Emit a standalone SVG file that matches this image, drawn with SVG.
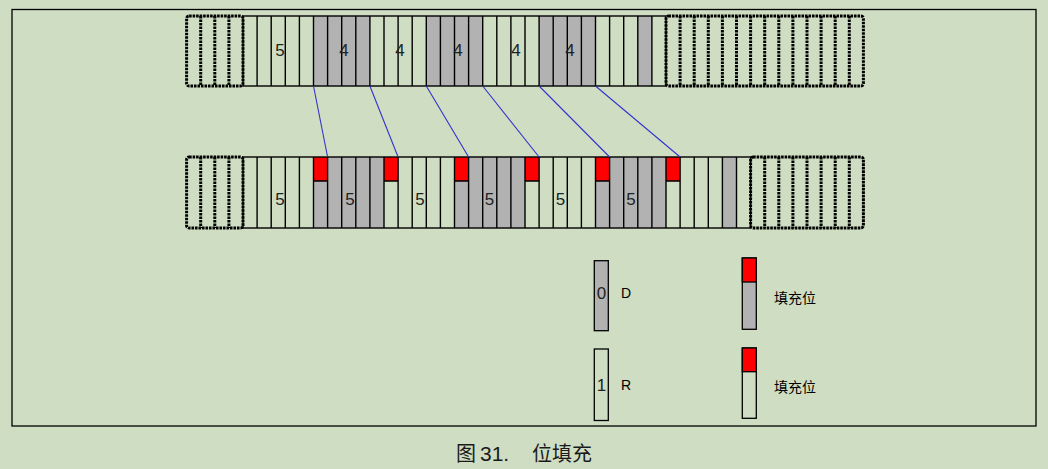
<svg xmlns="http://www.w3.org/2000/svg" width="1048" height="469" viewBox="0 0 1048 469">
<style>
.bg{fill:#CFDEC3}
.gray{fill:#B2B2B2}
.light{fill:#CFDEC3}
.red{fill:#FF0000}
.cell{fill:none;stroke:#000;stroke-width:1.4}
.dot{fill:none;stroke:#000;stroke-width:3;stroke-dasharray:2.6 0.9}
.conn{stroke:#3333CC;stroke-width:1.1;fill:none}
.num{font-family:"Liberation Sans",Arial,sans-serif;font-size:17px;fill:#222;text-anchor:middle}
.lbl{font-family:"Liberation Sans",Arial,sans-serif;font-size:14px;fill:#000}
.cjk{font-family:"Noto Sans CJK SC",sans-serif;font-size:14px;fill:#000}
.cap{font-family:"Noto Sans CJK SC",sans-serif;font-size:20px;fill:#1a1a1a}
</style>
<rect class="bg" x="0" y="0" width="1048" height="469"/>
<rect x="12" y="9.5" width="1024" height="416.5" fill="none" stroke="#000" stroke-width="1.3"/>

<g id="top-row">
  <rect class="gray" x="313.5" y="16" width="56.4" height="70"/>
  <rect class="gray" x="426.3" y="16" width="56.4" height="70"/>
  <rect class="gray" x="539.1" y="16" width="56.4" height="70"/>
  <rect class="gray" x="637.8" y="16" width="14.1" height="70"/>
  <rect class="cell" x="243" y="16" width="423" height="70"/>
  <path class="cell" d="M257.1 16V86M271.2 16V86M285.3 16V86M299.4 16V86M313.5 16V86M327.6 16V86M341.7 16V86M355.8 16V86M369.9 16V86M384 16V86M398.1 16V86M412.2 16V86M426.3 16V86M440.4 16V86M454.5 16V86M468.6 16V86M482.7 16V86M496.8 16V86M510.9 16V86M525 16V86M539.1 16V86M553.2 16V86M567.3 16V86M581.4 16V86M595.5 16V86M609.6 16V86M623.7 16V86M637.8 16V86M651.9 16V86"/>
  <rect class="dot" x="186.6" y="16" width="56.4" height="70" rx="2.5"/>
  <path class="dot" d="M200.7 16V86M214.8 16V86M228.9 16V86"/>
  <rect class="dot" x="666" y="16" width="197.4" height="70" rx="2.5"/>
  <path class="dot" d="M680.1 16V86M694.2 16V86M708.3 16V86M722.4 16V86M736.5 16V86M750.6 16V86M764.7 16V86M778.8 16V86M792.9 16V86M807 16V86M821.1 16V86M835.2 16V86M849.3 16V86"/>
  <text class="num" x="280" y="56">5</text>
  <text class="num" x="344" y="56">4</text>
  <text class="num" x="400" y="56">4</text>
  <text class="num" x="458" y="56">4</text>
  <text class="num" x="516" y="56">4</text>
  <text class="num" x="570" y="56">4</text>
</g>

<g id="bottom-row">
  <rect class="gray" x="313.5" y="157" width="70.5" height="71"/>
  <rect class="gray" x="454.5" y="157" width="70.5" height="71"/>
  <rect class="gray" x="595.5" y="157" width="70.5" height="71"/>
  <rect class="gray" x="722.4" y="157" width="14.1" height="71"/>
  <rect class="red" x="313.5" y="157" width="14.1" height="24"/>
  <rect class="red" x="384" y="157" width="14.1" height="24"/>
  <rect class="red" x="454.5" y="157" width="14.1" height="24"/>
  <rect class="red" x="525" y="157" width="14.1" height="24"/>
  <rect class="red" x="595.5" y="157" width="14.1" height="24"/>
  <rect class="red" x="666" y="157" width="14.1" height="24"/>
  <path class="cell" d="M313.5 181H327.6M384 181H398.1M454.5 181H468.6M525 181H539.1M595.5 181H609.6M666 181H680.1"/>
  <rect class="cell" x="243" y="157" width="507.6" height="71"/>
  <path class="cell" d="M257.1 157V228M271.2 157V228M285.3 157V228M299.4 157V228M313.5 157V228M327.6 157V228M341.7 157V228M355.8 157V228M369.9 157V228M384 157V228M398.1 157V228M412.2 157V228M426.3 157V228M440.4 157V228M454.5 157V228M468.6 157V228M482.7 157V228M496.8 157V228M510.9 157V228M525 157V228M539.1 157V228M553.2 157V228M567.3 157V228M581.4 157V228M595.5 157V228M609.6 157V228M623.7 157V228M637.8 157V228M651.9 157V228M666 157V228M680.1 157V228M694.2 157V228M708.3 157V228M722.4 157V228M736.5 157V228"/>
  <rect class="dot" x="186.6" y="157" width="56.4" height="71" rx="2.5"/>
  <path class="dot" d="M200.7 157V228M214.8 157V228M228.9 157V228"/>
  <rect class="dot" x="750.6" y="157" width="112.8" height="71" rx="2.5"/>
  <path class="dot" d="M764.7 157V228M778.8 157V228M792.9 157V228M807 157V228M821.1 157V228M835.2 157V228M849.3 157V228"/>
  <text class="num" x="280" y="204.5">5</text>
  <text class="num" x="350" y="204.5">5</text>
  <text class="num" x="420" y="204.5">5</text>
  <text class="num" x="489.5" y="204.5">5</text>
  <text class="num" x="560.5" y="204.5">5</text>
  <text class="num" x="631" y="204.5">5</text>
</g>

<g id="connectors">
  <line class="conn" x1="313.5" y1="86" x2="327.6" y2="157"/>
  <line class="conn" x1="369.9" y1="86" x2="398.1" y2="157"/>
  <line class="conn" x1="426.3" y1="86" x2="468.6" y2="157"/>
  <line class="conn" x1="482.7" y1="86" x2="539.1" y2="157"/>
  <line class="conn" x1="539.1" y1="86" x2="609.6" y2="157"/>
  <line class="conn" x1="595.5" y1="86" x2="680.1" y2="157"/>
</g>

<g id="legend-d">
  <rect class="gray" x="594.3" y="260.7" width="14" height="70" stroke="#000" stroke-width="1.3"/>
  <text class="num" x="601.5" y="299">0</text>
  <text class="lbl" x="621" y="298">D</text>
</g>
<g id="legend-r">
  <rect class="light" x="594.3" y="349" width="14" height="71.5" stroke="#000" stroke-width="1.3"/>
  <text class="num" x="601.5" y="391">1</text>
  <text class="lbl" x="621" y="390">R</text>
</g>
<g id="legend-stuff-d">
  <rect class="gray" x="742.3" y="258" width="14" height="71.3" stroke="#000" stroke-width="1.3"/>
  <rect class="red" x="742.3" y="258" width="14" height="24" stroke="#000" stroke-width="1.3"/>
  <text class="cjk" x="774" y="303">填充位</text>
</g>
<g id="legend-stuff-r">
  <rect class="light" x="742.3" y="348" width="14" height="70.3" stroke="#000" stroke-width="1.3"/>
  <rect class="red" x="742.3" y="348" width="14" height="23.7" stroke="#000" stroke-width="1.3"/>
  <text class="cjk" x="774" y="392">填充位</text>
</g>

<g id="caption">
  <text class="cap" x="456" y="461">图</text>
  <text x="480" y="461" font-family="Liberation Sans,Arial,sans-serif" font-size="21" fill="#1a1a1a">31.</text>
  <text class="cap" x="532" y="461">位填充</text>
</g>
</svg>
